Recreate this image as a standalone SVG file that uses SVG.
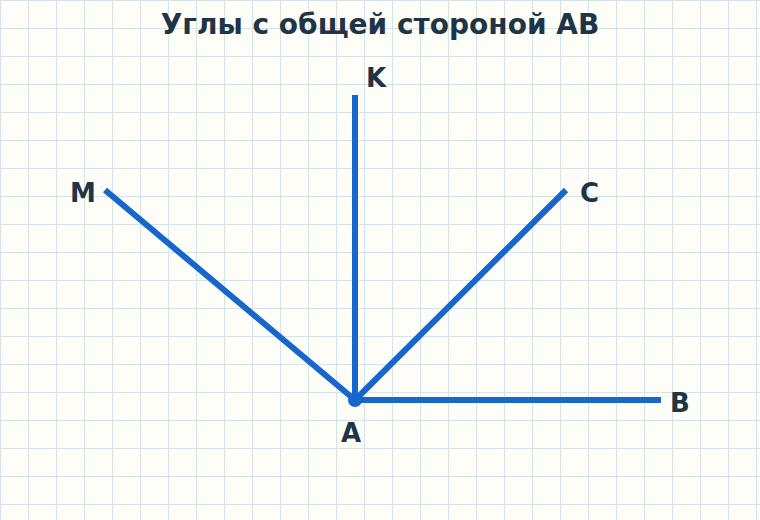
<svg xmlns="http://www.w3.org/2000/svg" width="760" height="520" viewBox="0 0 760 520">
<defs>
<pattern id="grid" width="28" height="28" patternUnits="userSpaceOnUse">
<path d="M0.5 0 V28 M0 0.5 H28" fill="none" stroke="#d2e4ec" stroke-width="1"/>
</pattern>
<style>
.ray{stroke:#1766cc;stroke-width:6;fill:none;stroke-linecap:butt}
.lbl{font-family:"DejaVu Sans","Liberation Sans",sans-serif;font-weight:bold;font-size:26px;fill:#1f3444}
.title{font-family:"DejaVu Sans","Liberation Sans",sans-serif;font-weight:bold;font-size:28px;fill:#1f3444}
</style>
</defs>
<rect width="760" height="520" fill="#fffdf8"/>
<rect width="760" height="520" fill="url(#grid)"/>
<text class="title" x="380" y="34" text-anchor="middle">Углы с общей стороной AB</text>
<g id="connectors">
<line class="ray" x1="355" y1="400" x2="661" y2="400"/>
<line class="ray" x1="355" y1="400" x2="355" y2="95"/>
<line class="ray" x1="355" y1="400" x2="566" y2="190"/>
<line class="ray" x1="355" y1="400" x2="105" y2="190"/>
</g>
<g id="node-A">
<circle cx="355" cy="400" r="7" fill="#1766cc"/>
<text class="lbl" x="351" y="442" text-anchor="middle">A</text>
</g>
<g id="node-B"><text class="lbl" x="670" y="412">B</text></g>
<g id="node-K"><text class="lbl" x="366" y="87">K</text></g>
<g id="node-C"><text class="lbl" x="580" y="202">C</text></g>
<g id="node-M"><text class="lbl" x="70" y="202">M</text></g>
</svg>
